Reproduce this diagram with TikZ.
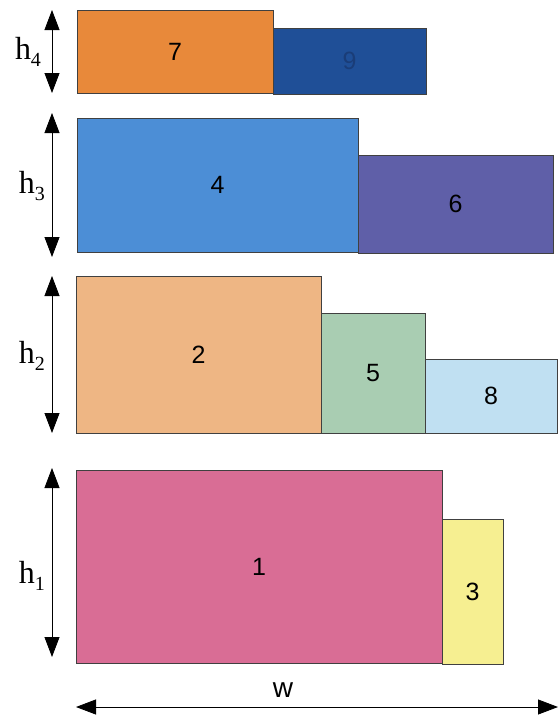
\documentclass[tikz,border=0pt]{standalone}
\usepackage{fontspec}
\setmainfont{Liberation Serif}
\newfontfamily\digitfont{Liberation Sans}
\usetikzlibrary{arrows.meta}
\definecolor{cSeven}{HTML}{E8893A}
\definecolor{cNine}{HTML}{1F4F97}
\definecolor{cNineText}{HTML}{1A3D78}
\definecolor{cFour}{HTML}{4C8ED6}
\definecolor{cSix}{HTML}{5F5FA8}
\definecolor{cTwo}{HTML}{EEB684}
\definecolor{cFive}{HTML}{A9CDB2}
\definecolor{cEight}{HTML}{C0E0F2}
\definecolor{cOne}{HTML}{D96D95}
\definecolor{cThree}{HTML}{F6EF91}
\tikzset{
  blk/.style={draw=black!75, line width=0.9pt, inner sep=0pt, outer sep=0pt, anchor=north west, font=\digitfont\fontsize{25}{25}\selectfont},
  dim/.style={line width=0.8pt, {Triangle[length=20pt,width=15pt]}-{Triangle[length=20pt,width=15pt]}},
  hlab/.style={font=\fontsize{32}{32}\selectfont, inner sep=0pt}
}
\begin{document}
\begin{tikzpicture}[x=1pt,y=-1pt]
\useasboundingbox (0,0) rectangle (558,715);
% row 4
\node[blk, fill=cSeven, minimum width=196pt, minimum height=83pt] (r7) at (77,10) {7};
\node[blk, fill=cNine, text=cNineText, minimum width=153pt, minimum height=66pt] (r9) at (273,28) {9};
% row 3
\node[blk, fill=cFour, minimum width=281pt, minimum height=134pt] (r4) at (77,118) {4};
\node[blk, fill=cSix, minimum width=195pt, minimum height=98pt] (r6) at (358,155) {6};
% row 2
\node[blk, fill=cTwo, minimum width=245pt, minimum height=157pt] (r2) at (76,276) {2};
\node[blk, fill=cFive, minimum width=104pt, minimum height=120pt] (r5) at (321,313) {5};
\node[blk, fill=cEight, minimum width=132pt, minimum height=74pt] (r8) at (425,359) {8};
% row 1
\node[blk, fill=cOne, minimum width=366pt, minimum height=193pt] (r1) at (76,470) {1};
\node[blk, fill=cThree, minimum width=61pt, minimum height=145pt] (r3) at (442,519) {3};
% height arrows
\coordinate (h4t) at (52,10); \coordinate (h4b) at (52,93);
\coordinate (h3t) at (52,113); \coordinate (h3b) at (52,257);
\coordinate (h2t) at (52,276); \coordinate (h2b) at (52,433);
\coordinate (h1t) at (52,468); \coordinate (h1b) at (52,657);
\draw[dim] (h4t) -- (h4b);
\draw[dim] (h3t) -- (h3b);
\draw[dim] (h2t) -- (h2b);
\draw[dim] (h1t) -- (h1b);
\node[hlab] (l4) at (28,52) {h\raisebox{-0.45ex}{\fontsize{20}{20}\selectfont 4}};
\node[hlab] (l3) at (32,186) {h\raisebox{-0.45ex}{\fontsize{20}{20}\selectfont 3}};
\node[hlab] (l2) at (32,356) {h\raisebox{-0.45ex}{\fontsize{20}{20}\selectfont 2}};
\node[hlab] (l1) at (32,576) {h\raisebox{-0.45ex}{\fontsize{20}{20}\selectfont 1}};
% width arrow
\coordinate (wl) at (76,707); \coordinate (wr) at (558,707);
\draw[dim] (wl) -- (wr);
\node[font=\digitfont\fontsize{28}{28}\selectfont, inner sep=0pt] (wlab) at (283,690) {w};
\end{tikzpicture}
\end{document}
